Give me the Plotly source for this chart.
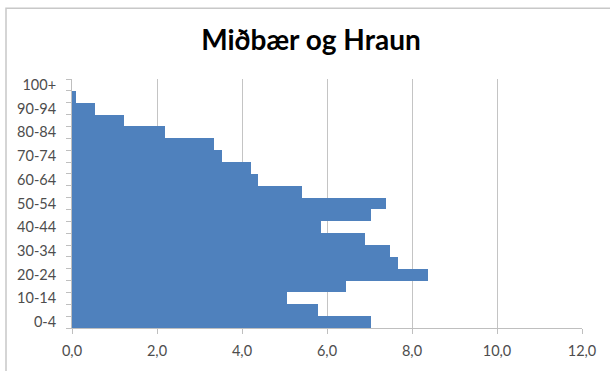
import plotly.graph_objects as go

# Age groups, youngest first
age_groups = ["0-4", "5-9", "10-14", "15-19", "20-24", "25-29", "30-34", "35-39",
              "40-44", "45-49", "50-54", "55-59", "60-64", "65-69", "70-74", "75-79",
              "80-84", "85-89", "90-94", "95-99", "100+"]
# Share of residents (%) per age group
share = [7.03, 5.79, 5.06, 6.44, 8.38, 7.67, 7.49, 6.90,
         5.87, 7.03, 7.38, 5.40, 4.38, 4.22, 3.52, 3.34,
         2.18, 1.22, 0.53, 0.10, 0.0]

x_ticks = [0, 2, 4, 6, 8, 10, 12]
x_tick_text = ["0,0", "2,0", "4,0", "6,0", "8,0", "10,0", "12,0"]

positions = list(range(len(age_groups)))
label_pos = positions[::2]
label_text = age_groups[::2]
boundaries = [p - 0.5 for p in positions] + [positions[-1] + 0.5]

fig = go.Figure(go.Bar(
    x=share, y=positions, orientation="h",
    marker=dict(color="#4f81bd", line=dict(width=0)),
    width=1.0,
))

fig.update_layout(
    width=610, height=371,
    margin=dict(l=72, r=28, t=79, b=39),
    paper_bgcolor="white", plot_bgcolor="white",
    showlegend=False,
    bargap=0,
    font=dict(family="Lato", size=14.5, color="#4d4d4d"),
    title=dict(text="<b>Miðbær og Hraun</b>", x=311/610, xanchor="center",
               xref="container", yref="container", y=1 - 40/371, yanchor="middle",
               font=dict(family="Lato", size=28, color="#000000")),
    xaxis=dict(range=[0, 12], tickvals=x_ticks, ticktext=x_tick_text,
               showgrid=True, gridcolor="#c4c4c4", gridwidth=1,
               showline=True, linecolor="#bfbfbf", linewidth=1,
               ticks="outside", ticklen=5, tickcolor="#bfbfbf",
               ticklabelstandoff=5, zeroline=False),
    yaxis=dict(range=[-0.5, len(age_groups) - 0.5], tickvals=label_pos, ticktext=label_text,
               showgrid=False, showline=True, linecolor="#bfbfbf", linewidth=1,
               ticks="", ticklabelstandoff=12, zeroline=False,
               minor=dict(tickvals=boundaries, ticks="outside", ticklen=5,
                          tickcolor="#bfbfbf", showgrid=False)),
    shapes=[dict(type="rect", xref="paper", yref="paper",
                 x0=(6 - 72) / 510, x1=1.3, y0=-0.5, y1=1 + (79 - 7) / 253.5,
                 line=dict(color="#c8c8c8", width=1.5), fillcolor="rgba(0,0,0,0)",
                 layer="below")],
)

fig.write_html("out.html")
